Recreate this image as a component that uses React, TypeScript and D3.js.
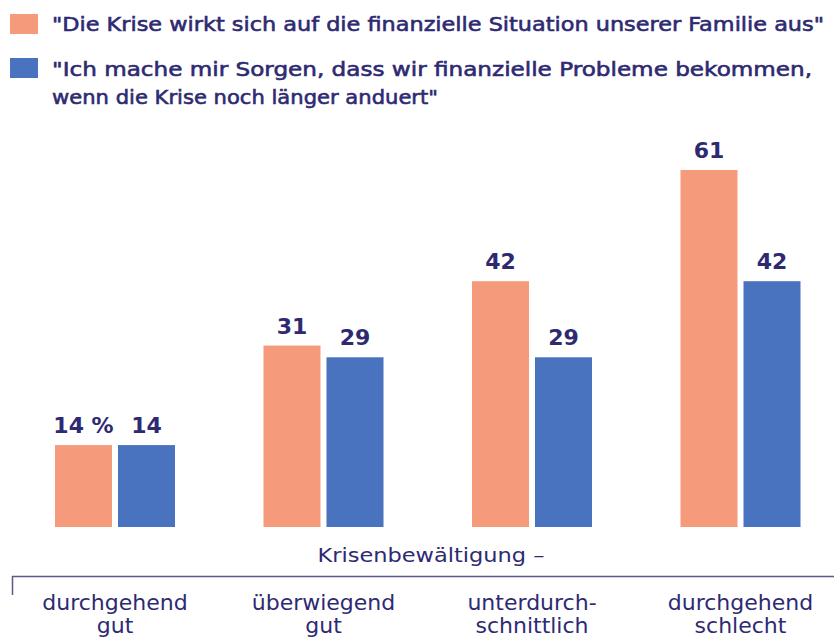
import React from 'react'
import * as d3 from 'd3'

const categories = [
  ['durchgehend', 'gut'],
  ['überwiegend', 'gut'],
  ['unterdurch-', 'schnittlich'],
  ['durchgehend', 'schlecht'],
]
const affectsFamily = [14, 31, 42, 61]
const worries = [14, 29, 29, 42]
const legendLabels = [
  ['"Die Krise wirkt sich auf die finanzielle Situation unserer Familie aus"'],
  ['"Ich mache mir Sorgen, dass wir finanzielle Probleme bekommen,', 'wenn die Krise noch länger anduert"'],
]
const axisTitle = 'Krisenbewältigung –'

const W = 834
const H = 637
const ORANGE = '#f59a7b'
const BLUE = '#4a73bf'
const NAVY = '#2e2a72'
const FONT = '"DejaVu Sans", sans-serif'

// widths of the legend lines as they appear in the reference
const legendWidths = [[772], [760, 386]]

export default function App() {
  const baseline = 527
  const x0 = d3.scalePoint<number>().domain(d3.range(categories.length)).range([115, 740.5])
  const x1 = d3.scaleBand<number>().domain([0, 1]).range([-60, 60]).paddingInner(0.0952)
  const y = d3.scaleLinear().domain([0, 61]).range([baseline, 170])

  const series = [
    { values: affectsFamily, color: ORANGE },
    { values: worries, color: BLUE },
  ]

  return (
    <svg width={W} height={H} style={{ position: 'absolute', left: 0, top: 0, background: '#fff' }} fontFamily={FONT}>
      {/* legend */}
      <rect x={10} y={14} width={28} height={20} fill={ORANGE} />
      <rect x={10} y={58} width={28} height={20} fill={BLUE} />
      {legendLabels.map((lines, i) =>
        lines.map((t, j) => (
          <text
            key={i + '-' + j}
            x={52}
            y={(i === 0 ? 31 : 76) + j * 28}
            fontSize={20}
            fill={NAVY}
            stroke={NAVY}
            strokeWidth={0.6}
            textLength={legendWidths[i][j]}
            lengthAdjust="spacingAndGlyphs"
          >
            {t}
          </text>
        )),
      )}

      {/* bars */}
      {categories.map((c, i) => (
        <g key={i} transform={`translate(${x0(i)},0)`}>
          {series.map((s, k) => (
            <g key={k}>
              <rect
                x={x1(k)}
                y={y(s.values[i])}
                width={x1.bandwidth()}
                height={baseline - y(s.values[i])}
                fill={s.color}
              />
              <text
                x={(x1(k) as number) + x1.bandwidth() / 2}
                y={y(s.values[i]) - 12}
                textAnchor="middle"
                fontSize={22}
                fontWeight={700}
                fill={NAVY}
              >
                {s.values[i] + (i === 0 && k === 0 ? ' %' : '')}
              </text>
            </g>
          ))}
        </g>
      ))}

      {/* axis title and bracket */}
      <text x={431} y={562} textAnchor="middle" fontSize={20} fill={NAVY} textLength={227} lengthAdjust="spacingAndGlyphs">
        {axisTitle}
      </text>
      <path d="M12.5,595 V576.5 H834" fill="none" stroke="#5a5a8a" strokeWidth={1.5} />
      {categories.map((lines, i) => (
        <text key={i} x={x0(i)} textAnchor="middle" fontSize={22} fill={NAVY}>
          {lines.map((t, j) => (
            <tspan key={j} x={x0(i)} y={610 + j * 23}>
              {t}
            </tspan>
          ))}
        </text>
      ))}
    </svg>
  )
}
